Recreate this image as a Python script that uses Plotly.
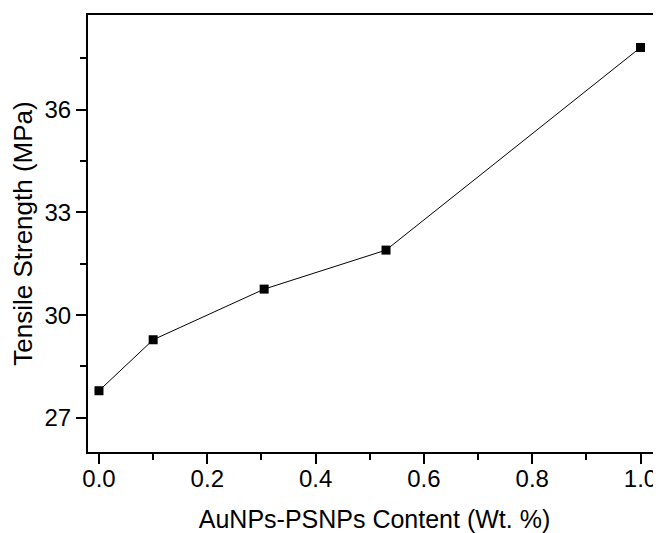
import plotly.graph_objects as go

# données
content_wt = [0.0, 0.1, 0.305, 0.53, 1.0]
tensile_mpa = [27.79, 29.28, 30.76, 31.9, 37.82]

x_tickvals = [0.0, 0.2, 0.4, 0.6, 0.8, 1.0]
x_ticktext = ["0.0", "0.2", "0.4", "0.6", "0.8", "1.0"]
y_tickvals = [27, 30, 33, 36]
y_ticktext = ["27", "30", "33", "36"]

FONT = "Liberation Sans, Arial, sans-serif"

fig = go.Figure()
fig.add_trace(go.Scatter(
    x=content_wt, y=tensile_mpa, mode="lines+markers",
    line=dict(color="black", width=1),
    marker=dict(symbol="square", size=9, color="black"),
    showlegend=False,
))

# la page html a une marge de 8px autour du graphique
fig.update_layout(
    width=653, height=525,
    margin=dict(l=80, r=0, t=7, b=81),
    plot_bgcolor="white", paper_bgcolor="white",
    font=dict(family=FONT, size=24, color="black"),
)

fig.update_xaxes(
    range=[-0.0203, 1.0378], automargin=False,
    tickvals=x_tickvals, ticktext=x_ticktext, ticklabelstandoff=-6,
    ticks="outside", ticklen=10, tickwidth=2, tickcolor="black",
    minor=dict(dtick=0.1, tick0=0, ticks="outside", ticklen=6, tickwidth=2, tickcolor="black"),
    showline=True, linecolor="black", linewidth=2, mirror=True,
    showgrid=False, zeroline=False,
    title=dict(text="AuNPs-PSNPs Content (Wt. %)", font=dict(size=25), standoff=20),
)
fig.update_yaxes(
    range=[26.0, 38.77], automargin=False,
    tickvals=y_tickvals, ticktext=y_ticktext,
    ticks="outside", ticklen=10, tickwidth=2, tickcolor="black",
    minor=dict(dtick=1.5, tick0=27, ticks="outside", ticklen=6, tickwidth=2, tickcolor="black"),
    showline=True, linecolor="black", linewidth=2, mirror=False,
    showgrid=False, zeroline=False,
    title=dict(text="Tensile Strength (MPa)", font=dict(size=26), standoff=8),
)

fig.write_html("out.html")
